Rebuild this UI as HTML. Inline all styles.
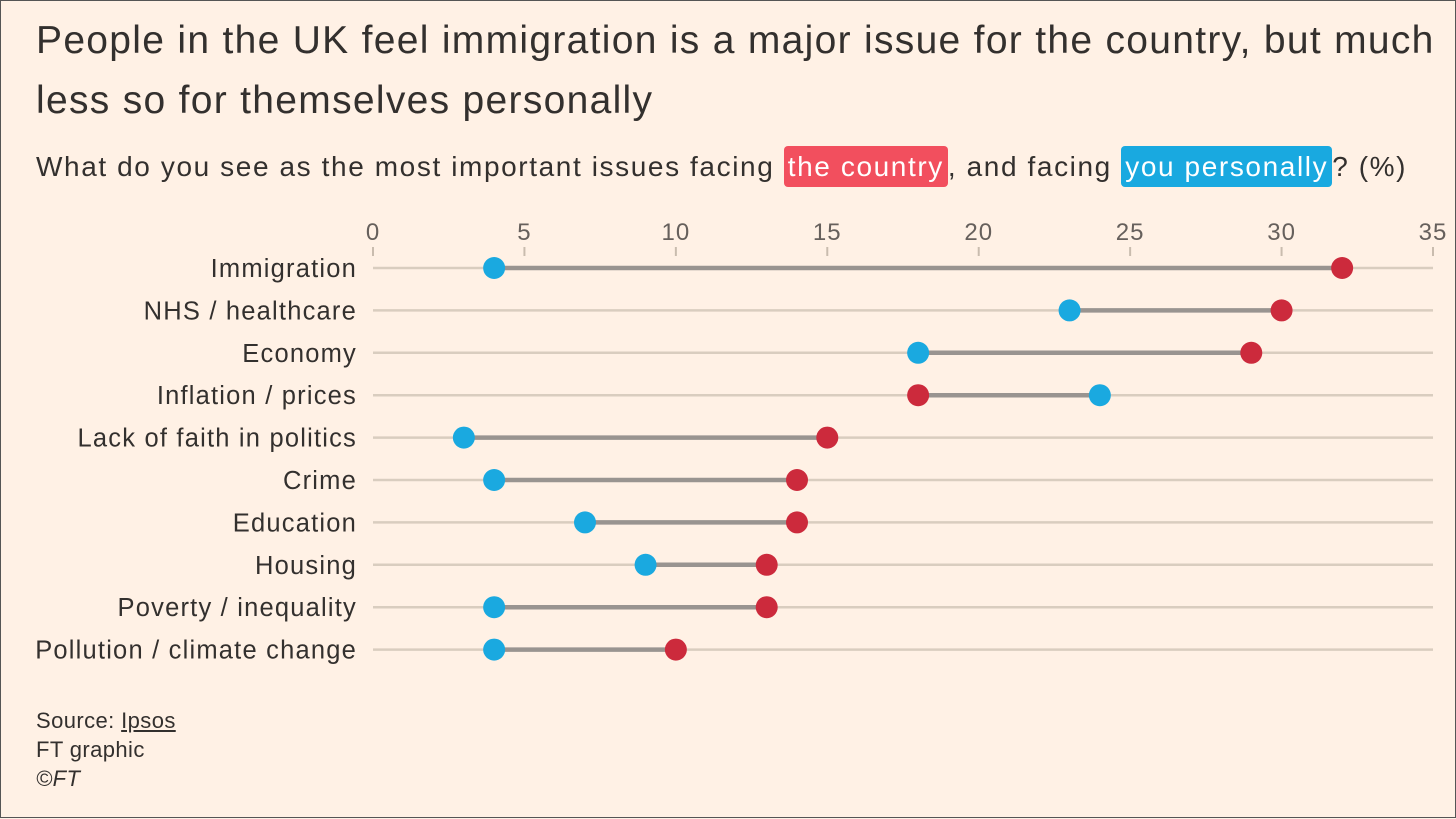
<!DOCTYPE html>
<html><head><meta charset="utf-8"><style>
html,body{margin:0;padding:0;}
body{width:1456px;height:818px;background:#fff1e5;font-family:"Liberation Sans",sans-serif;color:#33302e;position:relative;overflow:hidden;box-sizing:border-box;border:1px solid #555;}
.t{position:absolute;white-space:nowrap;}
.hl{color:#fff;border-radius:4px;padding:5px 4px;}
</style></head><body>
<div class="t" style="left:35px;top:10px;font-size:39px;letter-spacing:1.3px;line-height:60px;">People in the UK feel immigration is a major issue for the country, but much<br>less so for themselves personally</div>
<div class="t" style="left:35px;top:150px;font-size:28px;letter-spacing:1.6px;">What do you see as the most important issues facing <span class="hl" style="background:#f24f5e;">the country</span>, and facing <span class="hl" style="background:#19a9e0;">you personally</span>? (%)</div>
<svg id="c" width="1456" height="818" style="position:absolute;left:0;top:0"></svg>
<div class="t" style="left:35px;top:705px;font-size:22px;letter-spacing:0.4px;line-height:29px;">Source: <span style="text-decoration:underline">Ipsos</span><br>FT graphic<br><i>©FT</i></div>
<script>
const categories=["Immigration","NHS / healthcare","Economy","Inflation / prices","Lack of faith in politics","Crime","Education","Housing","Poverty / inequality","Pollution / climate change"];
const countryVals=[32,30,29,18,15,14,14,13,13,10];
const personalVals=[4,23,18,24,3,4,7,9,4,4];
const ticks=[0,5,10,15,20,25,30,35];
const NS="http://www.w3.org/2000/svg";
const svg=document.getElementById('c');
const x=v=>372+v*(1060/35);
const y=i=>267+i*42.4;
function mk(t,a){const e=document.createElementNS(NS,t);for(const k in a)e.setAttribute(k,a[k]);svg.appendChild(e);return e;}
ticks.forEach(t=>{
  const l=mk('line',{x1:x(t),x2:x(t),y1:246,y2:255,stroke:'#c9bcae','stroke-width':2});
  
  
  const tx=mk('text',{x:x(t),y:239,'text-anchor':'middle','font-size':24,fill:'#66605c','font-family':'Liberation Sans, sans-serif','letter-spacing':'1'});
  tx.textContent=t;
  
  
});
categories.forEach((c,i)=>{
  const g=mk('line',{x1:x(0),x2:x(35),y1:y(i),y2:y(i),stroke:'#d9cdbf','stroke-width':2.5});
  
  
  const lb=mk('text',{x:356,y:y(i)+9,'text-anchor':'end','font-size':25.5,fill:'#33302e','font-family':'Liberation Sans, sans-serif','letter-spacing':'1.2'});
  lb.textContent=c;
  
  
  const cn=mk('line',{x1:x(countryVals[i]),x2:x(personalVals[i]),y1:y(i),y2:y(i),stroke:'#999490','stroke-width':4.5});
  
  
  const p=mk('circle',{cx:x(personalVals[i]),cy:y(i),r:11,fill:'#1aa9e0'});
  
  
  const r=mk('circle',{cx:x(countryVals[i]),cy:y(i),r:11,fill:'#cc2a3c'});
  
  
});
</script>
</body></html>
